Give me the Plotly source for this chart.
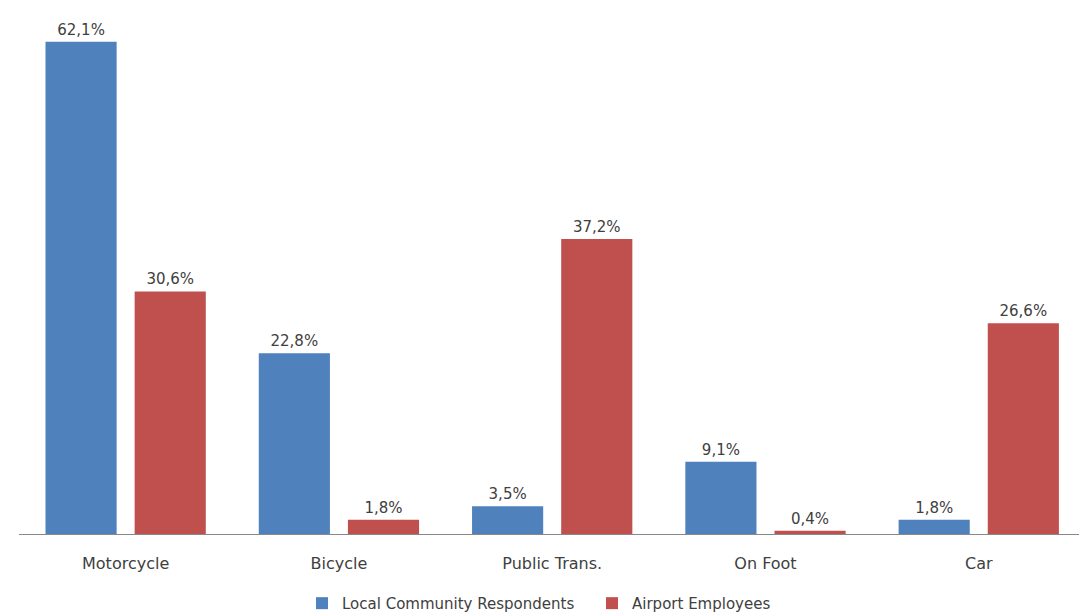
import plotly.graph_objects as go

categories = ["Motorcycle", "Bicycle", "Public Trans.", "On Foot", "Car"]
local_community = [62.1, 22.8, 3.5, 9.1, 1.8]
airport_employees = [30.6, 1.8, 37.2, 0.4, 26.6]
series_names = ["Local Community Respondents", "Airport Employees"]


def pct_labels(values):
    return [f"{v:.1f}".replace(".", ",") + "%" for v in values]


FONT = "DejaVu Sans"
TEXT = "#404040"
fig = go.Figure()
for name, vals, color in [
    (series_names[0], local_community, "#4F81BD"),
    (series_names[1], airport_employees, "#C0504D"),
]:
    fig.add_trace(go.Bar(
        x=categories, y=vals, name=name,
        marker=dict(color=color, line=dict(width=0)),
        text=pct_labels(vals), textposition="outside",
        textfont=dict(family=FONT, size=15, color=TEXT),
        cliponaxis=False,
    ))

fig.update_layout(
    width=1079, height=616,
    margin=dict(l=19, r=0, t=10, b=82, autoexpand=False),
    paper_bgcolor="white", plot_bgcolor="white",
    barmode="group", bargap=0.164, bargroupgap=0.202,
    font=dict(family=FONT, size=15, color=TEXT),
    showlegend=True,
    legend=dict(orientation="h", x=0.267, xanchor="left", y=-0.101, yanchor="top",
                font=dict(family=FONT, size=15, color=TEXT),
                itemwidth=30, entrywidth=245, traceorder="normal"),
    xaxis=dict(range=[-0.5, 4.47], showline=True, linecolor="#888888", linewidth=1,
               ticks="outside", ticklen=15, tickcolor="rgba(0,0,0,0)",
               showgrid=False, tickfont=dict(family=FONT, size=16, color=TEXT)),
    yaxis=dict(range=[0, 66.1], visible=False, showgrid=False, zeroline=False),
)

fig.write_html("out.html")
